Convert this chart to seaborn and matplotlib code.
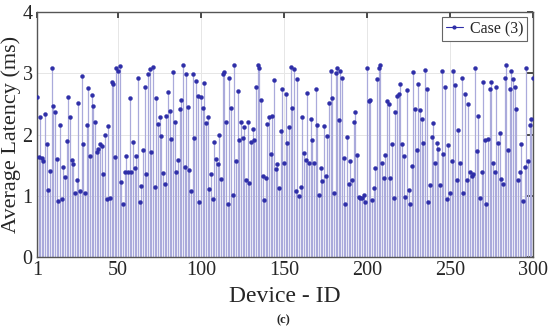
import numpy as np
import pandas as pd
import matplotlib
matplotlib.use("Agg")
import matplotlib.pyplot as plt
import seaborn as sns
from matplotlib.lines import Line2D

# ---- data ----
latency_part1 = [2.61, 1.63, 2.29, 1.61, 1.57, 2.34, 1.85, 1.09, 1.40, 3.08, 2.46, 2.36, 1.60, 0.91, 2.16,
                 0.95, 1.47, 1.30, 1.89, 2.62, 2.29, 1.58, 1.52, 1.04, 1.25, 2.51, 1.07, 2.96, 1.84, 1.04, 2.16]
latency_part2 = [2.76, 1.65, 2.64, 2.47, 2.21, 1.72, 1.76, 1.84, 1.82, 1.36, 1.99, 0.95, 2.14, 0.97, 2.85,
                 2.82, 1.63, 3.08, 3.04, 3.12, 1.22, 0.86, 1.39, 1.65, 1.39, 2.59, 1.38, 1.88, 1.45, 1.65, 2.92]
latency_part3 = [0.89, 1.16, 1.75, 2.78, 1.35, 2.99, 3.07, 1.71, 3.11, 1.14, 2.59, 2.17, 2.28, 1.98, 1.37,
                 1.19, 2.31, 2.69, 2.39, 1.93, 3.02, 2.21, 1.38, 1.59, 2.42, 2.56, 3.14, 1.47, 2.99, 2.45]
latency_part4 = [1.42, 1.08, 2.99, 1.95, 2.87, 2.63, 0.90, 2.61, 2.43, 2.84, 2.18, 2.29, 1.11, 1.35, 0.95,
                 1.87, 1.60, 1.52, 1.99, 1.27, 2.99, 3.02, 2.21, 0.86, 2.92, 2.43, 1.02, 3.14, 1.57, 2.71]
latency_part5 = [1.91, 2.21, 1.95, 2.13, 1.26, 2.21, 1.21, 1.87, 2.09, 1.91, 2.77, 3.14, 3.08, 2.56, 1.32,
                 0.93, 1.29, 2.17, 2.29, 1.69, 2.31, 2.89, 1.44, 1.52, 1.12, 2.06, 2.74, 1.54, 2.66, 1.86]
latency_part6 = [2.13, 3.11, 2.43, 3.07, 1.08, 2.91, 1.00, 1.14, 2.29, 1.70, 1.58, 2.67, 1.54, 2.25, 1.91,
                 1.53, 2.75, 2.16, 1.01, 1.46, 1.24, 2.14, 1.32, 1.98, 2.52, 3.04, 2.60, 1.04, 3.00, 3.08, 2.24]
latency_part7 = [3.04, 2.92, 1.61, 0.86, 1.96, 1.20, 1.57, 1.25, 2.21, 2.36, 1.66, 0.98, 0.96, 0.97, 1.01,
                 0.90, 3.08, 2.54, 2.57, 0.93, 1.12, 1.46, 2.91, 3.08, 3.13, 1.53, 1.29, 1.66, 2.55, 2.50]
latency_part8 = [1.29, 1.84, 0.96, 2.36, 2.63, 2.66, 2.83, 1.84, 1.65, 0.98, 2.73, 1.09, 0.86, 1.49, 3.02,
                 2.41, 1.74, 2.82, 2.40, 2.25, 1.86, 3.06, 2.74, 0.89, 1.17, 1.96, 2.18, 1.53, 1.86, 1.77]
latency_part9 = [1.17, 3.04, 1.68, 2.77, 0.95, 1.83, 1.04, 1.57, 3.03, 2.81, 1.26, 2.08, 1.53, 2.92, 1.05,
                 2.66, 1.26, 2.50, 1.39, 1.33, 1.35, 3.09, 1.73, 2.31, 0.96, 1.39, 2.86, 1.91, 0.86, 1.92, 2.74]
latency_part10 = [2.85, 1.54, 1.39, 2.77, 1.86, 2.02, 1.28, 1.20, 2.93, 3.13, 1.75, 2.74, 3.04, 2.90, 2.78,
                  2.42, 1.25, 1.39, 1.84, 0.92, 1.47, 3.09, 1.57, 2.16, 2.25, 2.92]

latency = (latency_part1 + latency_part2 + latency_part3 + latency_part4 + latency_part5 +
           latency_part6 + latency_part7 + latency_part8 + latency_part9 + latency_part10)
device_id = list(range(1, len(latency) + 1))
x_ticks = [1, 50, 100, 150, 200, 250, 300]
y_ticks = [0, 1, 2, 3, 4]
series_label = "Case (3)"

df = pd.DataFrame({"Device": device_id, "Latency": latency})

# ---- style ----
sns.set_theme(style="white")
plt.rcParams["font.family"] = ["Liberation Serif", "DejaVu Serif"]

fig = plt.figure(figsize=(5.5, 3.31), dpi=100)
ax = fig.add_axes([0.067, 0.2236, 0.902, 0.740])

stem_color = "#aaaadb"
mark_color = "#2e2ea8"

ax.vlines(df["Device"], 0, df["Latency"], color=stem_color, linewidth=0.9, zorder=2)
sns.scatterplot(data=df, x="Device", y="Latency", ax=ax, color=mark_color, s=8,
                edgecolor=mark_color, linewidth=0.3, zorder=3, legend=False)

ax.set_xlim(1, 300)
ax.set_ylim(0, 4)
ax.set_xticks(x_ticks)
ax.set_yticks(y_ticks)
ax.tick_params(axis="both", which="both", direction="in", labelsize=14.5, length=4,
               color="#333333", top=True, right=True, pad=3)
ax.grid(True, color="#e6e6e6", linewidth=0.7, zorder=0)
ax.set_axisbelow(True)
for s in ax.spines.values():
    s.set_color("#555555")
    s.set_linewidth(1.0)

ax.set_xlabel("Device - ID", fontsize=17, labelpad=4)
ax.set_ylabel("Average Latency (ms)", fontsize=16, labelpad=1)

handle = Line2D([0], [0], color=mark_color, marker=".", markersize=4, linewidth=0.8)
leg = ax.legend([handle], [series_label], loc="upper right", fontsize=11.5,
                frameon=True, fancybox=False, framealpha=1, edgecolor="#666666",
                borderpad=0.25, handlelength=1.1, handletextpad=0.4, borderaxespad=0,
                bbox_to_anchor=(0.988, 0.98))
leg.get_frame().set_linewidth(0.8)

fig.text(0.515, 0.033, "(c)", fontsize=9, fontweight="bold", ha="center", va="center")

fig.savefig("out.png", dpi=100)
